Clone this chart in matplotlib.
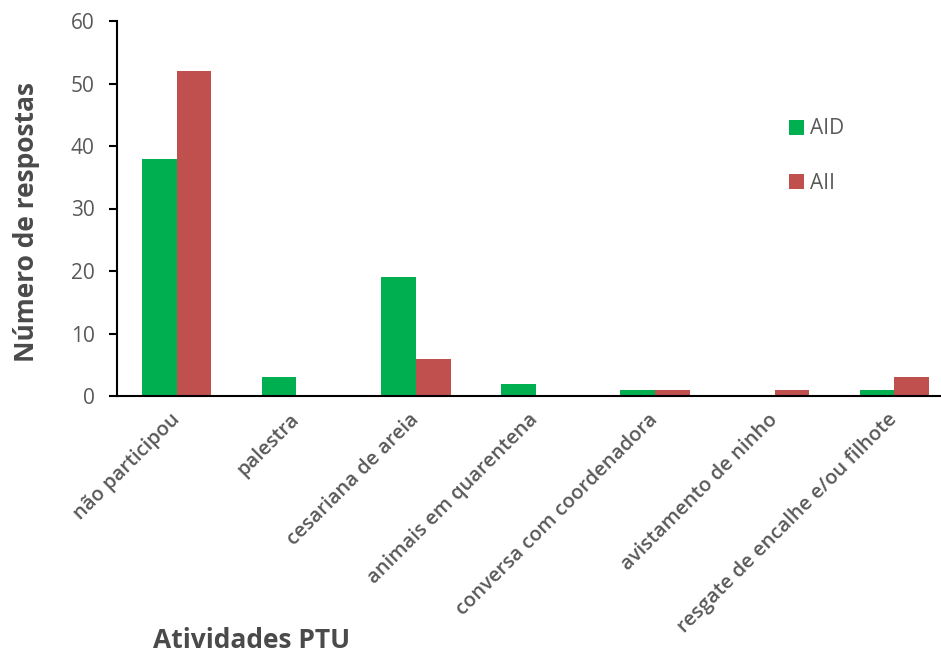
import numpy as np
import matplotlib.pyplot as plt

plt.rcParams['font.family'] = ['Open Sans', 'DejaVu Sans']

atividades = ['não participou', 'palestra', 'cesariana de areia',
              'animais em quarentena', 'conversa com coordenadora',
              'avistamento de ninho', 'resgate de encalhe e/ou filhote']
aid = [38, 3, 19, 2, 1, 0, 1]
aii = [52, 0, 6, 0, 1, 1, 3]

gray = '#595959'
x = np.arange(len(atividades))
w = 0.29

fig = plt.figure(figsize=(9.41, 6.56), dpi=100)
ax = fig.add_axes([117/941, 260/656, (954 - 117)/941, (396 - 21)/656])

ax.bar(x - w/2, aid, w, color='#00B050', label='AID')
ax.bar(x + w/2, aii, w, color='#C0504D', label='AII')

ax.set_xlim(-0.5, 6.5)
ax.set_ylim(0, 60)
ax.set_yticks(range(0, 61, 10))
ax.set_xticks(x)
ax.set_xticklabels(atividades, rotation=45, ha='right', va='center',
                   rotation_mode='anchor', color=gray, fontsize=14.5,
                   fontweight='semibold')
ax.tick_params(axis='x', length=0, pad=15)
ax.tick_params(axis='y', labelcolor=gray, labelsize=15, length=6, width=1.5, pad=10)

for s in ['top', 'right']:
    ax.spines[s].set_visible(False)
ax.spines['left'].set_linewidth(1.5)
ax.spines['bottom'].set_linewidth(1.5)

ax.set_ylabel('Número de respostas', fontsize=19, fontweight='bold', color='#4a4a4a')
ax.yaxis.set_label_coords(-0.092, 0.464)
fig.text(153/941, 1 - 640/656, 'Atividades PTU', fontsize=19, fontweight='bold',
         color='#4a4a4a', va='center', ha='left')

ax.legend(loc='upper left', bbox_to_anchor=(0.781, 0.79), frameon=False,
          handlelength=0.7, handleheight=0.7, handletextpad=0.3,
          labelspacing=1.6, fontsize=15, labelcolor=gray)

fig.savefig('out.png', dpi=100)
